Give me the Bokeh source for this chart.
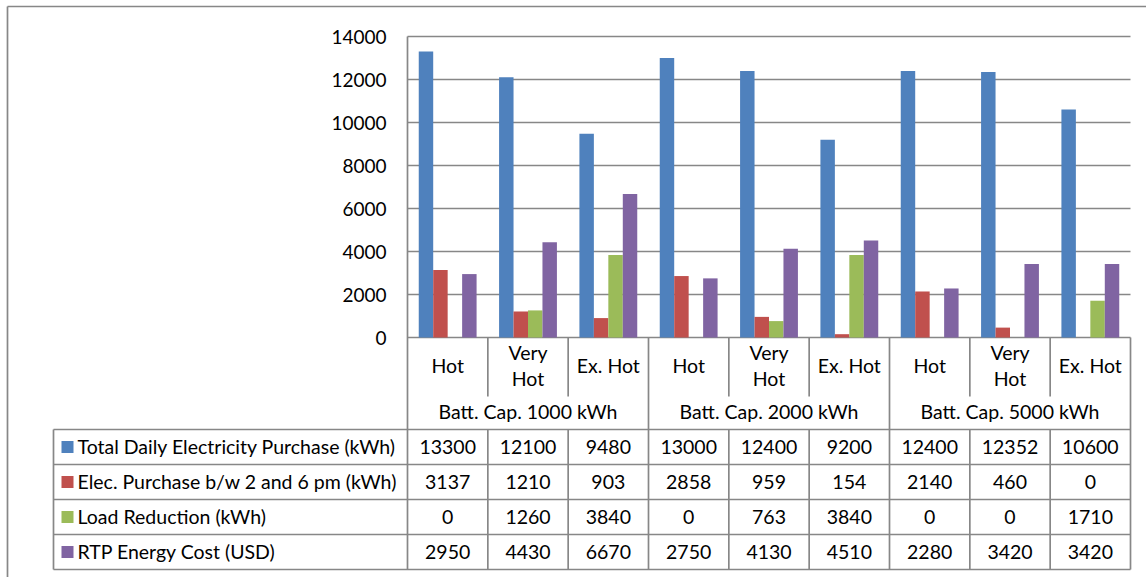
from bokeh.plotting import figure
from bokeh.models import Range1d, ColumnDataSource
from bokeh.core.properties import value
from bokeh.embed import file_html
from bokeh.resources import INLINE

# ---------------- data ----------------
conditions = ["Hot", "Very Hot", "Ex. Hot"]
condition_labels = ["Hot", "Very\nHot", "Ex. Hot"]
capacities = ["Batt. Cap. 1000 kWh", "Batt. Cap. 2000 kWh", "Batt. Cap. 5000 kWh"]
series_names = ["Total Daily Electricity Purchase (kWh)",
                "Elec. Purchase b/w 2 and 6 pm (kWh)",
                "Load Reduction (kWh)",
                "RTP Energy Cost (USD)"]
total_purchase = [13300, 12100, 9480, 13000, 12400, 9200, 12400, 12352, 10600]
peak_purchase = [3137, 1210, 903, 2858, 959, 154, 2140, 460, 0]
load_reduction = [0, 1260, 3840, 0, 763, 3840, 0, 0, 1710]
rtp_cost = [2950, 4430, 6670, 2750, 4130, 4510, 2280, 3420, 3420]
y_ticks = [0, 2000, 4000, 6000, 8000, 10000, 12000, 14000]

# ---------------- styling / layout (pixels) ----------------
colors = ["#4F81BD", "#C0504D", "#9BBB59", "#8064A2"]
offsets = [-0.27, -0.09, 0.09, 0.27]
BAR_W = 0.18
FONT = "Lato"
FS = "19.5px"
LINE = "#878787"
LW = 1.7
W, H = 1146, 577
PLOT_L, PLOT_R = 407, 1130
Y_ZERO_PX, Y_TOP_PX = 337, 36
ROW_EDGES = [429, 464, 499, 534, 569]
TABLE_L = 53

n = len(total_purchase)
cat_px = (PLOT_R - PLOT_L) / float(n)
def lx(px):
    return (px - PLOT_L) / cat_px

y_max = y_ticks[-1]
k = (Y_ZERO_PX - Y_TOP_PX) / float(y_max)       # px per unit
bars_start = -(H - Y_ZERO_PX) / k
bars_end = y_max + Y_TOP_PX / k

p = figure(width=W, height=H,
           x_range=Range1d(lx(0), lx(W)),
           y_range=Range1d(H, 0),
           x_axis_location=None, y_axis_location=None,
           output_backend="svg", toolbar_location=None,
           min_border_left=0, min_border_right=0,
           min_border_top=0, min_border_bottom=0)
p.extra_y_ranges = {"bars": Range1d(bars_start, bars_end)}
p.outline_line_color = None
p.grid.visible = False

# horizontal gridlines of value axis
p.segment(x0=[0] * len(y_ticks), x1=[n] * len(y_ticks), y0=y_ticks, y1=y_ticks,
          y_range_name="bars", line_color=LINE, line_width=LW)
# value tick labels
p.text(x=[lx(386)] * len(y_ticks), y=y_ticks, text=[str(v) for v in y_ticks],
       y_range_name="bars", text_align="right", text_baseline="middle",
       text_font=value(FONT), text_font_size="19px", text_color="#000000")

# bars
xs = list(range(n))
series = [total_purchase, peak_purchase, load_reduction, rtp_cost]
for i in range(4):
    src = ColumnDataSource(dict(x=[j + 0.5 + offsets[i] for j in xs], top=series[i]))
    p.vbar(x="x", top="top", bottom=0, width=BAR_W, source=src, y_range_name="bars",
           fill_color=colors[i], line_color=None)

# ---------------- table lines ----------------
x0s, y0s, x1s, y1s = [], [], [], []
for y in ROW_EDGES:
    x0s.append(lx(TABLE_L)); x1s.append(n); y0s.append(y); y1s.append(y)
for b in range(n + 1):
    if b == 0:
        x0s.append(b); x1s.append(b); y0s.append(Y_TOP_PX); y1s.append(ROW_EDGES[-1])
    elif b % 3 == 0:
        x0s.append(b); x1s.append(b); y0s.append(Y_ZERO_PX); y1s.append(ROW_EDGES[-1])
    else:
        x0s.append(b); x1s.append(b); y0s.append(Y_ZERO_PX); y1s.append(396)
        x0s.append(b); x1s.append(b); y0s.append(ROW_EDGES[0]); y1s.append(ROW_EDGES[-1])
x0s.append(lx(TABLE_L)); x1s.append(lx(TABLE_L)); y0s.append(ROW_EDGES[0]); y1s.append(ROW_EDGES[-1])
# outer chart border (left and top)
x0s.append(lx(7)); x1s.append(lx(7)); y0s.append(6); y1s.append(H)
x0s.append(lx(7)); x1s.append(lx(W)); y0s.append(6); y1s.append(6)
p.segment(x0=x0s, y0=y0s, x1=x1s, y1=y1s, line_color=LINE, line_width=LW)

# ---------------- table text ----------------
p.text(x=[i + 0.5 for i in range(n)], y=[365] * n,
       text=[condition_labels[i % 3] for i in range(n)],
       text_align="center", text_baseline="middle",
       text_font=value(FONT), text_font_size=FS, text_color="#000000",
       text_line_height=1.1)
p.text(x=[1.5, 4.5, 7.5], y=[410.5] * 3, text=capacities,
       text_align="center", text_baseline="middle",
       text_font=value(FONT), text_font_size=FS, text_color="#000000")
for r in range(4):
    yc = (ROW_EDGES[r] + ROW_EDGES[r + 1]) / 2.0
    p.text(x=[i + 0.5 for i in range(n)], y=[yc - 0.5] * n,
           text=[str(v) for v in series[r]],
           text_align="center", text_baseline="middle",
           text_font=value(FONT), text_font_size=FS, text_color="#000000")
    p.rect(x=[lx(67)], y=[yc], width=12, height=12,
           width_units="screen", height_units="screen",
           fill_color=colors[r], line_color=None)
    p.text(x=[lx(77)], y=[yc - 0.5], text=[series_names[r]],
           text_align="left", text_baseline="middle",
           text_font=value(FONT), text_font_size=FS, text_color="#000000")

open("out.html", "w").write(file_html(p, INLINE))
